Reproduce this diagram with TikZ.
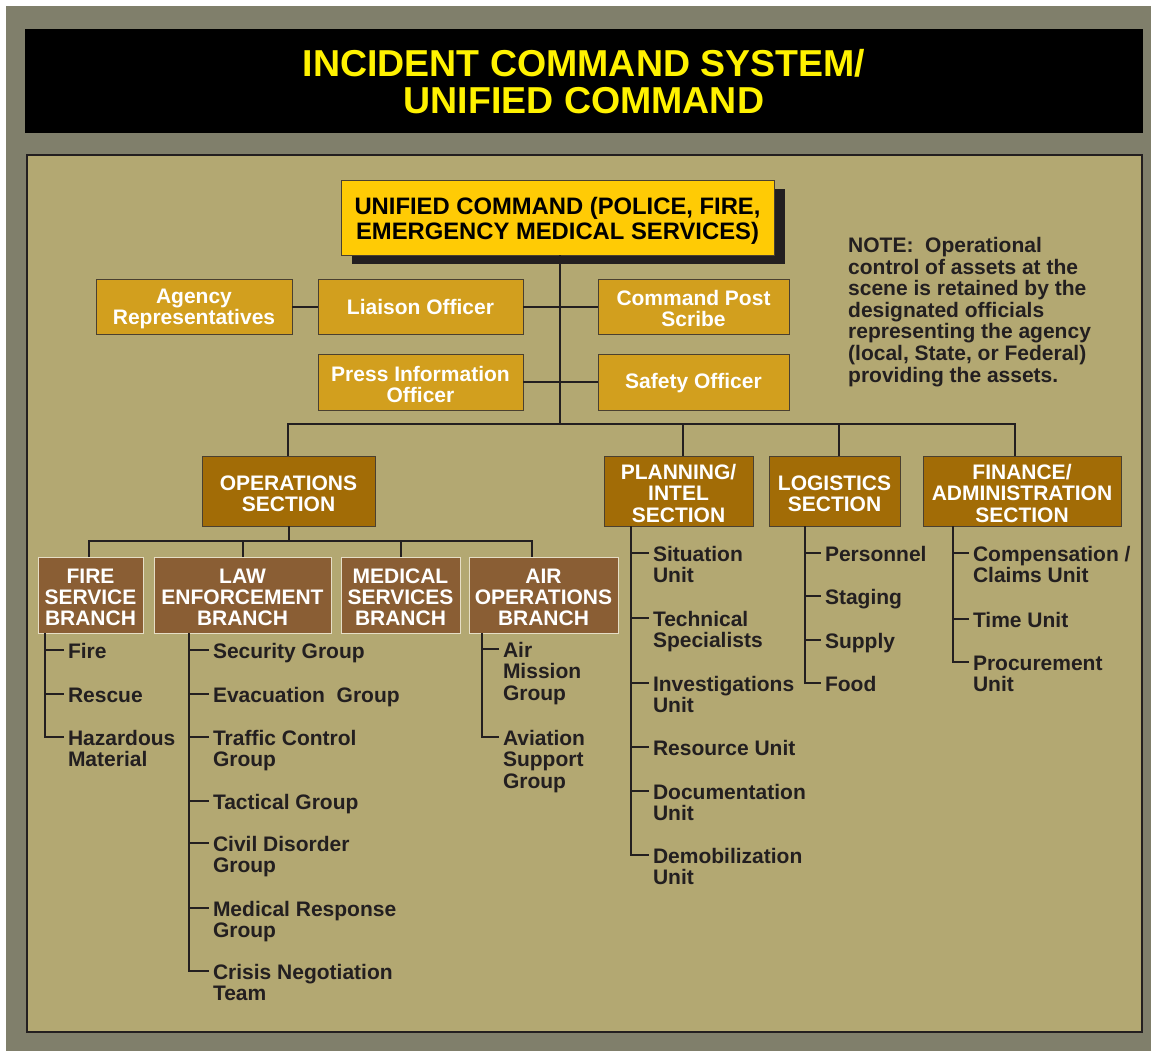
\documentclass[tikz,border=0pt]{standalone}
\usepackage{fontspec}
\setmainfont{Liberation Sans}
\usetikzlibrary{calc,shadows}
\definecolor{outerg}{HTML}{807F6B}
\definecolor{panel}{HTML}{B3A872}
\definecolor{ucy}{HTML}{FFCB05}
\definecolor{staff}{HTML}{D29F1E}
\definecolor{sect}{HTML}{A26C06}
\definecolor{branch}{HTML}{8A5E34}
\definecolor{ink}{HTML}{231F20}
\definecolor{titley}{HTML}{FFF200}
\definecolor{bline}{HTML}{E6DEC6}
\definecolor{edge}{HTML}{4A4030}
\newcommand{\fstrut}{\rule{0pt}{16pt}}
\newcommand{\bstrut}{\rule{0pt}{20pt}}
\newcommand{\litem}[4]{%
  \node[item] (#1) at (#2,#3-7.5) {\fstrut#4};
  \coordinate (#1t) at ($(#1.north west)+(-4,7.5)$);}
\begin{document}
\begin{tikzpicture}[x=1pt,y=-1pt,
  conn/.style={draw=ink, line width=2pt},
  boxbase/.style={inner sep=0pt, outer sep=0pt, align=center, font=\fontsize{21}{21}\selectfont\bfseries},
  staffbox/.style={boxbase, fill=staff, draw=edge, line width=0.8pt, text=white},
  sectbox/.style={boxbase, fill=sect, draw=edge, line width=0.8pt, text=white, font=\fontsize{21}{21.5}\selectfont\bfseries},
  branchbox/.style={boxbase, fill=branch, draw=bline, line width=1pt, text=white},
  item/.style={anchor=north west, inner sep=0pt, outer sep=0pt, align=left, text=ink, font=\fontsize{21}{21.3}\selectfont\bfseries},
]
\useasboundingbox (0,0) rectangle (1151,1051);
\fill[white] (0,0) rectangle (1151,1051);
\fill[outerg] (6,6) rectangle (1151,1051);

% title
\node[fill=black, minimum width=1118pt, minimum height=104pt, inner sep=0pt, text=titley, align=center,
  font=\fontsize{37.5}{37}\selectfont\bfseries] (title) at (584,81) {\rule{0pt}{29pt}INCIDENT COMMAND SYSTEM/\\UNIFIED COMMAND};

% panel
\node[fill=panel, draw=ink, line width=1.5pt, minimum width=1115pt, minimum height=877pt, inner sep=0pt] (panel) at (584.5,593.5) {};

% unified command
\node[boxbase, fill=ucy, draw=edge, line width=0.8pt, text=black, minimum width=433pt, minimum height=75pt,
  font=\fontsize{23.8}{25.5}\selectfont\bfseries,
  general shadow={fill=ink, shadow xshift=11pt, shadow yshift=-9pt}] (uc) at (557.5,217.5)
  {\rule{0pt}{23.5pt}UNIFIED COMMAND (POLICE, FIRE,\\EMERGENCY MEDICAL SERVICES)};

% staff
\node[staffbox, minimum width=196pt, minimum height=55pt] (agency) at (194,306.5) {\bstrut Agency\\Representatives};
\node[staffbox, minimum width=205pt, minimum height=55pt] (liaison) at (420.5,306.5) {Liaison Officer};
\node[staffbox, minimum width=191pt, minimum height=55pt] (cps) at (693.5,306.5) {\bstrut Command Post\\Scribe};
\node[staffbox, minimum width=205pt, minimum height=56pt] (pio) at (420.5,382) {\bstrut Press Information\\Officer};
\node[staffbox, minimum width=191pt, minimum height=56pt] (safety) at (693.5,382) {\rule{0pt}{17pt}Safety Officer};

% note
\node[anchor=north west, inner sep=0pt, align=left, text=ink, font=\fontsize{21}{21.6}\selectfont\bfseries] (note)
  at (848,236.3) {\fstrut NOTE:\ \ Operational\\control of assets at the\\scene is retained by the\\designated officials\\representing the agency\\(local, State, or Federal)\\providing the assets.};

% sections
\node[sectbox, minimum width=173pt, minimum height=70pt] (ops) at (288.5,491) {\bstrut OPERATIONS\\SECTION};
\node[sectbox, minimum width=149pt, minimum height=70pt] (plan) at (678.5,491) {\bstrut PLANNING/\\INTEL\\SECTION};
\node[sectbox, minimum width=131pt, minimum height=70pt] (log) at (834.5,491) {\bstrut LOGISTICS\\SECTION};
\node[sectbox, minimum width=198pt, minimum height=70pt] (fin) at (1022,491) {\bstrut FINANCE/\\ADMINISTRATION\\SECTION};

% branches
\node[branchbox, minimum width=105pt, minimum height=76pt] (fire) at (90.5,595) {\bstrut FIRE\\SERVICE\\BRANCH};
\node[branchbox, minimum width=177pt, minimum height=76pt] (law) at (242.5,595) {\bstrut LAW\\ENFORCEMENT\\BRANCH};
\node[branchbox, minimum width=119pt, minimum height=76pt] (med) at (400.5,595) {\bstrut MEDICAL\\SERVICES\\BRANCH};
\node[branchbox, minimum width=149pt, minimum height=76pt] (air) at (543.5,595) {\bstrut AIR\\OPERATIONS\\BRANCH};

% connectors top
\coordinate (hub) at (560,424);
\coordinate (dops) at (288,424);
\coordinate (dplan) at (683,424);
\coordinate (dlog) at (839,424);
\coordinate (dfin) at (1015,424);
\draw[conn] (uc.south -| hub) -- (hub);
\draw[conn] (agency.east) -- (liaison.west);
\draw[conn] (liaison.east) -- (cps.west);
\draw[conn] (pio.east) -- (safety.west);
\draw[conn] (dops |- ops.north) -- (dops) -- (dfin) -- (dfin |- fin.north);
\draw[conn] (dplan) -- (dplan |- plan.north);
\draw[conn] (dlog) -- (dlog |- log.north);

% operations bus
\coordinate (obf) at (89,541);
\coordinate (oba) at (532,541);
\draw[conn] (ops.south) -- (ops.south |- obf);
\draw[conn] (obf |- fire.north) -- (obf) -- (oba) -- (oba |- air.north);
\draw[conn] (law.north) -- (law.north |- obf);
\draw[conn] (med.north) -- (med.north |- obf);

% lists
\litem{f1}{68}{650}{Fire}
\litem{f2}{68}{694}{Rescue}
\litem{f3}{68}{737}{Hazardous\\Material}
\litem{l1}{213}{650}{Security Group}
\litem{l2}{213}{694}{Evacuation\ \ Group}
\litem{l3}{213}{737}{Traffic Control\\Group}
\litem{l4}{213}{801}{Tactical Group}
\litem{l5}{213}{843}{Civil Disorder\\Group}
\litem{l6}{213}{908}{Medical Response\\Group}
\litem{l7}{213}{971}{Crisis Negotiation\\Team}
\litem{a1}{503}{649}{Air\\Mission\\Group}
\litem{a2}{503}{737}{Aviation\\Support\\Group}
\litem{p1}{653}{553}{Situation\\Unit}
\litem{p2}{653}{618}{Technical\\Specialists}
\litem{p3}{653}{683}{Investigations\\Unit}
\litem{p4}{653}{747}{Resource Unit}
\litem{p5}{653}{791}{Documentation\\Unit}
\litem{p6}{653}{855}{Demobilization\\Unit}
\litem{g1}{825}{553}{Personnel}
\litem{g2}{825}{596}{Staging}
\litem{g3}{825}{640}{Supply}
\litem{g4}{825}{683}{Food}
\litem{c1}{973}{553}{Compensation /\\Claims Unit}
\litem{c2}{973}{619}{Time Unit}
\litem{c3}{973}{662}{Procurement\\Unit}

\coordinate (fx) at (45,0);
\coordinate (lx) at (189,0);
\coordinate (ax) at (482,0);
\coordinate (px) at (631,0);
\coordinate (gx) at (805,0);
\coordinate (cx) at (953,0);

\draw[conn] (fire.south -| fx) |- (f3t);
\foreach \q in {f1t,f2t} \draw[conn] (\q -| fx) -- (\q);
\draw[conn] (law.south -| lx) |- (l7t);
\foreach \q in {l1t,l2t,l3t,l4t,l5t,l6t} \draw[conn] (\q -| lx) -- (\q);
\draw[conn] (air.south -| ax) |- (a2t);
\draw[conn] (a1t -| ax) -- (a1t);
\draw[conn] (plan.south -| px) |- (p6t);
\foreach \q in {p1t,p2t,p3t,p4t,p5t} \draw[conn] (\q -| px) -- (\q);
\draw[conn] (log.south -| gx) |- (g4t);
\foreach \q in {g1t,g2t,g3t} \draw[conn] (\q -| gx) -- (\q);
\draw[conn] (fin.south -| cx) |- (c3t);
\foreach \q in {c1t,c2t} \draw[conn] (\q -| cx) -- (\q);
\end{tikzpicture}
\end{document}
